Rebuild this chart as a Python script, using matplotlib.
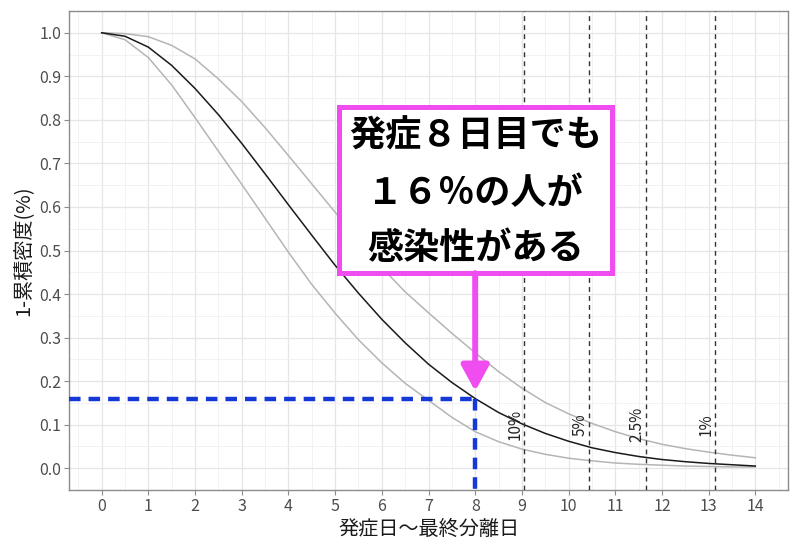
import matplotlib
matplotlib.use('Agg')
import matplotlib.pyplot as plt
from matplotlib.patches import Rectangle
import numpy as np

plt.rcParams['font.family'] = ['Noto Sans CJK JP', 'DejaVu Sans']

# ---------------- data ----------------
days = [0, 0.5, 1, 1.5, 2, 2.5, 3, 3.5, 4, 4.5, 5, 5.5, 6, 6.5, 7, 7.5,
        8, 8.5, 9, 9.5, 10, 10.5, 11, 11.5, 12, 12.5, 13, 13.5, 14]
central = [1.000, 0.992, 0.967, 0.925, 0.872, 0.812, 0.746, 0.676, 0.605,
           0.535, 0.466, 0.402, 0.342, 0.288, 0.239, 0.197, 0.160, 0.128,
           0.102, 0.080, 0.062, 0.047, 0.036, 0.027, 0.020, 0.015, 0.011,
           0.008, 0.005]
upper = [1.000, 0.998, 0.991, 0.971, 0.940, 0.894, 0.842, 0.782, 0.718,
         0.653, 0.588, 0.523, 0.461, 0.405, 0.357, 0.310, 0.265, 0.222,
         0.184, 0.151, 0.125, 0.103, 0.084, 0.068, 0.055, 0.045, 0.037,
         0.030, 0.024]
lower = [1.000, 0.984, 0.943, 0.880, 0.805, 0.728, 0.652, 0.574, 0.496,
         0.422, 0.356, 0.295, 0.242, 0.195, 0.156, 0.117, 0.084, 0.061,
         0.044, 0.032, 0.023, 0.017, 0.012, 0.009, 0.007, 0.005, 0.004,
         0.003, 0.003]

cut_days = [9.04, 10.43, 11.66, 13.14]
cut_labels = ['10%', '5%', '2.5%', '1%']

focus_day = 8
focus_value = 0.16

x_ticks = list(range(0, 15))
y_ticks = [0.0, 0.1, 0.2, 0.3, 0.4, 0.5, 0.6, 0.7, 0.8, 0.9, 1.0]
y_tick_labels = ['0.0', '0.1', '0.2', '0.3', '0.4', '0.5', '0.6', '0.7',
                 '0.8', '0.9', '1.0']

box_lines = ['発症８日目でも', '１６％の人が', '感染性がある']
x_title = '発症日〜最終分離日'
y_title = '1-累積密度(%)'

# ---------------- styling ----------------
MAGENTA = '#F04DF0'
BLUE = '#1538D6'
TICK_COL = '#4D4D4D'

fig = plt.figure(figsize=(8.0, 5.39), dpi=100)
ax = fig.add_axes([69 / 800, 49 / 539, 719 / 800, 479 / 539])

xmin, xmax = -0.7, 14.7
ymin, ymax = -0.05, 1.05
ax.set_xlim(xmin, xmax)
ax.set_ylim(ymin, ymax)

ax.set_xticks(x_ticks)
ax.set_xticklabels([str(t) for t in x_ticks])
ax.set_yticks(y_ticks)
ax.set_yticklabels(y_tick_labels)
ax.set_xticks([t + 0.5 for t in range(-1, 15)], minor=True)
ax.set_yticks([v + 0.05 for v in [-0.1] + y_ticks], minor=True)

ax.grid(which='major', color='#E6E6E6', linewidth=0.9, zorder=0)
ax.grid(which='minor', color='#F0F0F0', linewidth=0.6, zorder=0)
ax.set_axisbelow(True)

ax.tick_params(which='major', length=3.5, width=0.8, color='#8C8C8C',
               labelcolor=TICK_COL, labelsize=11.5, pad=2)
ax.tick_params(which='minor', length=0)
for sp in ax.spines.values():
    sp.set_color('#8C8C8C')
    sp.set_linewidth(1.0)

# curves
ax.plot(days, upper, color='#B5B5B5', linewidth=1.1, zorder=2)
ax.plot(days, lower, color='#B5B5B5', linewidth=1.1, zorder=2)
ax.plot(days, central, color='#1A1A1A', linewidth=1.1, zorder=3)

# cut-off dashed lines + labels
for d, lab in zip(cut_days, cut_labels):
    ax.axvline(d, color='#333333', linewidth=1.0, linestyle=(0, (3.5, 3)),
               zorder=3)
    ax.text(d - 0.19, 0.10, lab, rotation=90, ha='center', va='center',
            fontsize=11, color='#222222', zorder=3)

# blue dashed guides
ax.plot([xmin, focus_day], [focus_value, focus_value], color=BLUE,
        linewidth=3.2, linestyle=(0, (2.6, 1.8)), zorder=4, clip_on=False,
        solid_capstyle='butt', dash_capstyle='butt')
ax.plot([focus_day, focus_day], [focus_value, ymin], color=BLUE,
        linewidth=3.2, linestyle=(0, (2.6, 1.8)), zorder=4, clip_on=False,
        dash_capstyle='butt')

# annotation box
box_left, box_right = 5.09, 10.93
box_bottom, box_top = 0.448, 0.829
rect = Rectangle((box_left, box_bottom), box_right - box_left,
                 box_top - box_bottom, facecolor='white', edgecolor=MAGENTA,
                 linewidth=3.6, zorder=6)
ax.add_patch(rect)
for txt, yv in zip(box_lines, [0.764, 0.630, 0.505]):
    ax.text(focus_day, yv, txt, ha='center', va='center', fontsize=26,
            fontweight='bold', color='black', zorder=7)

# arrow
ax.annotate('', xy=(focus_day, 0.177), xytext=(focus_day, box_bottom),
            arrowprops=dict(arrowstyle='-|>,head_length=1.1,head_width=0.6',
                            color=MAGENTA, lw=4.3, mutation_scale=14,
                            shrinkA=0, shrinkB=0),
            zorder=6)

ax.set_xlabel(x_title, fontsize=14.5, color='#1A1A1A', labelpad=3)
ax.set_ylabel(y_title, fontsize=14.5, color='#1A1A1A', labelpad=4)

fig.savefig('out.png', dpi=100)
